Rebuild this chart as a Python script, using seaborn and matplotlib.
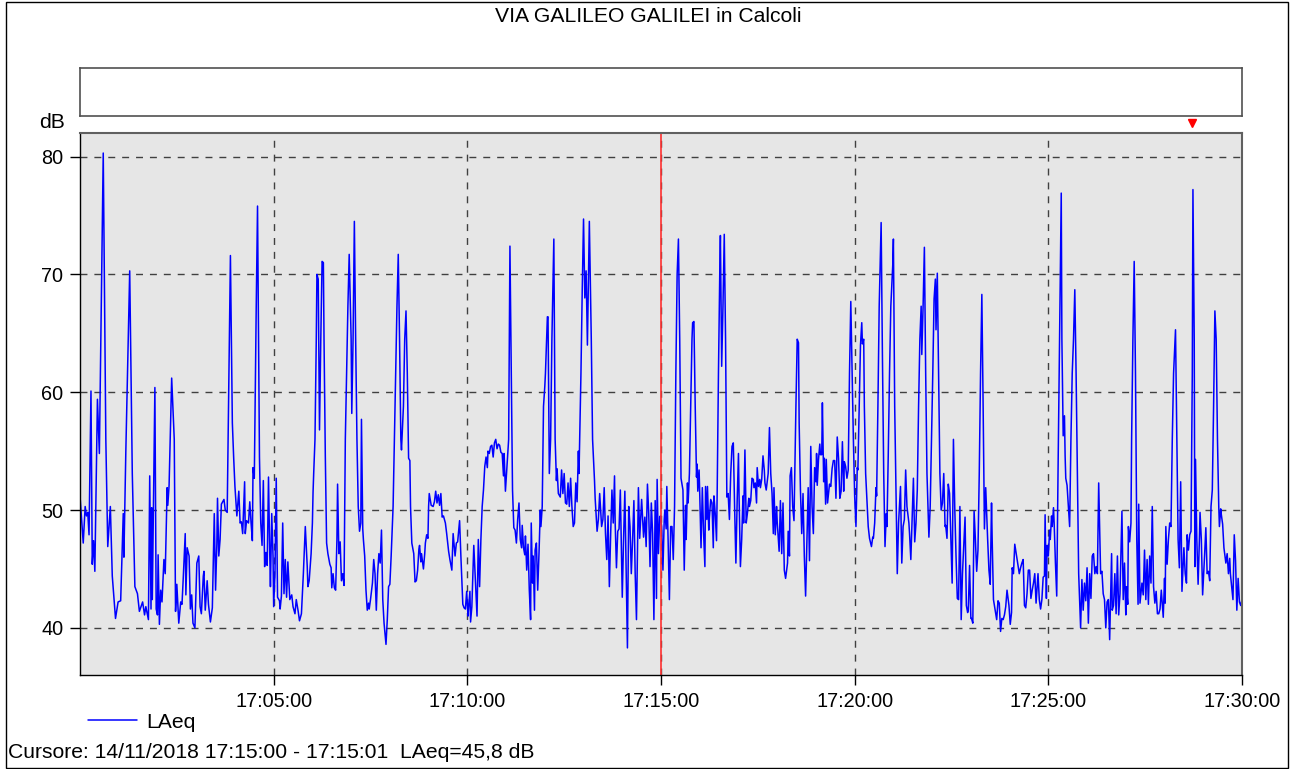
import numpy as np
import pandas as pd
import seaborn as sns
import matplotlib.pyplot as plt
import matplotlib.dates as mdates
from matplotlib.patches import Rectangle

# testi e riferimenti
title = "VIA GALILEO GALILEI in Calcoli"
start = "2018-11-14 17:00:00"
end = "2018-11-14 17:30:00"
cursor_time = "2018-11-14 17:15:00"
marker_time = "2018-11-14 17:28:43"
cursor_text = "Cursore: 14/11/2018 17:15:00 - 17:15:01  LAeq=45,8 dB"
y_ticks = [40, 50, 60, 70, 80]

# secondi dalle 17:00:00
elapsed_s = [
    0, 5, 8, 10, 12, 14, 17, 19, 21, 23, 27, 30, 36, 40, 43, 47, 50, 55, 59, 63,
    67, 68, 71, 77, 81, 85, 89, 92, 97, 100, 102, 106, 108, 110, 111, 112, 116, 118, 120, 121,
    123, 125, 127, 130, 132, 135, 136, 138, 142, 146, 148, 150, 153, 156, 158, 160, 163, 164, 166, 169,
    171, 173, 175, 178, 181,
    184, 186, 188, 191, 192, 194, 197, 199, 202, 205, 208, 210, 212, 213, 215, 217, 219, 222, 223, 225,
    228, 230, 233, 236, 238, 240, 243, 246, 248, 250, 252, 255, 256, 258, 261, 263, 265, 267, 268, 270,
    273, 275, 278, 280, 282, 284, 286, 288, 290, 292, 294, 295, 297, 299, 300, 302, 304, 306, 309, 310,
    312, 314, 316, 318, 320, 322, 325, 328, 330, 333, 335, 338, 340, 343, 346, 349, 352, 353, 355, 358,
    360, 361,
    362, 364, 366, 367, 369, 371, 373, 375, 377, 378, 380, 382, 384, 387, 389, 390, 392, 394, 396, 398,
    399, 401, 403, 405, 407, 409, 411, 413, 415, 417, 420, 421, 423, 425, 427, 429, 431, 433, 435, 436,
    438, 439, 441, 443, 445, 447, 448, 450, 453, 455, 457, 459, 461, 463, 465, 467, 469, 471, 474, 476,
    478, 480, 482, 485, 487, 489, 491, 493, 495, 497, 498, 501, 503, 505, 507, 509, 511, 512, 514, 517,
    519, 521, 523, 525, 526, 528, 529, 532, 534, 535, 537, 539, 540,
    541, 544, 547, 549, 551, 553, 555, 557, 559, 561, 563, 566, 568, 571, 573, 576, 578, 581, 583, 585,
    588, 590, 593, 595, 597, 599, 601, 602, 604, 605, 607, 610, 612, 615, 617, 619, 621, 623, 625, 627,
    629, 631, 632, 634, 636, 638, 640, 642, 644, 646, 648, 650, 652, 654, 656, 657, 659, 661, 664, 666,
    668, 670, 672, 674, 676, 678, 680, 682, 684, 685, 687, 689, 690, 692, 694, 696, 698, 699, 701, 702,
    704, 705, 707, 709, 711, 713, 714, 716, 718, 720,
    721, 724, 725, 727, 729, 731, 734, 736, 738, 739, 741, 744, 746, 748, 750, 752, 754, 756, 758, 760,
    762, 764, 766, 768, 770, 772, 773, 776, 778, 780, 782, 784, 786, 789, 792, 794, 797, 798, 801, 803,
    805, 808, 810, 812, 814, 816, 818, 820, 822, 824, 826, 828, 829, 831, 833, 835, 837, 840, 842, 844,
    846, 848, 850, 852, 854, 856, 858, 860, 862, 865, 867, 869, 870, 873, 875, 877, 879, 881, 883, 885,
    887, 889, 891, 893, 894, 896, 898,
    899, 901, 903, 905, 906, 908, 909, 911, 913, 915, 917, 919, 921, 923, 925, 927, 929, 931, 934, 936,
    938, 939, 941, 942, 944, 946, 948, 949, 951, 953, 955, 956, 957, 959, 960, 962, 964, 966, 968, 969,
    971, 972, 974, 975, 977, 979, 981, 982, 984, 986, 987, 989, 991, 992, 994, 996, 998, 1000, 1002, 1004,
    1006, 1008, 1010, 1012, 1014, 1016, 1018, 1020, 1021, 1023, 1025, 1027, 1028, 1030, 1032, 1034, 1036, 1037, 1039, 1041,
    1043, 1044, 1046, 1048, 1049, 1051, 1053, 1054, 1056, 1058, 1060, 1061, 1063, 1066, 1068, 1070, 1072, 1074, 1075, 1077,
    1079,
    1080, 1082, 1083, 1085, 1087, 1089, 1091, 1093, 1096, 1097, 1099, 1100, 1102, 1104, 1106, 1109, 1111, 1113, 1114, 1116,
    1118, 1120, 1122, 1124, 1126, 1128, 1130, 1132, 1134, 1136, 1138, 1140, 1141, 1142, 1144, 1146, 1147, 1149, 1150, 1152,
    1153, 1155, 1156, 1158, 1161, 1163, 1165, 1167, 1169, 1171, 1173, 1175, 1177, 1179, 1181, 1183, 1184, 1186, 1188, 1190,
    1192, 1194, 1196, 1198, 1200, 1202, 1204, 1205, 1207, 1209, 1211, 1212, 1214, 1215, 1217, 1219, 1221, 1223, 1226, 1228,
    1229, 1231, 1233, 1234, 1236, 1238, 1241, 1243, 1245, 1247, 1249, 1250, 1252, 1254, 1256, 1259,
    1260, 1262, 1264, 1266, 1268, 1271, 1273, 1275, 1277, 1279, 1281, 1284, 1285, 1287, 1291, 1293, 1295, 1297, 1299, 1301,
    1303, 1304, 1306, 1308, 1310, 1312, 1315, 1317, 1319, 1321, 1323, 1325, 1326, 1328, 1330, 1332, 1334, 1336, 1338, 1340,
    1341, 1343, 1345, 1347, 1349, 1351, 1353, 1355, 1357, 1359, 1361, 1363, 1365, 1367, 1371, 1373, 1375, 1376, 1378, 1380,
    1381, 1383, 1385, 1387, 1389, 1391, 1393, 1395, 1397, 1399, 1401, 1403, 1406, 1408, 1410, 1412, 1413, 1415, 1417, 1420,
    1422, 1424, 1426, 1428, 1430, 1432, 1434, 1436, 1438,
    1439, 1441, 1443, 1444, 1446, 1448, 1450, 1453, 1455, 1457, 1459, 1461, 1463, 1465, 1467, 1469, 1471, 1473, 1475, 1477,
    1479, 1481, 1484, 1486, 1488, 1490, 1492, 1494, 1495, 1497, 1498, 1500, 1502, 1503, 1505, 1506, 1508, 1509, 1511, 1513,
    1515, 1518, 1520, 1521, 1523, 1525, 1526, 1527, 1529, 1531, 1533, 1535, 1537, 1539, 1541, 1543, 1545, 1547, 1550, 1552,
    1554, 1556, 1558, 1560, 1562, 1564, 1566, 1568, 1570, 1572, 1574, 1576, 1578, 1581, 1583, 1585, 1587, 1589, 1591, 1593,
    1595, 1598, 1599, 1601, 1603, 1605, 1607, 1609, 1611, 1614, 1616, 1618,
    1620, 1621, 1623, 1624, 1626, 1628, 1629, 1631, 1633, 1635, 1637, 1639, 1640, 1642, 1645, 1647, 1649, 1651, 1653, 1655,
    1657, 1659, 1661, 1663, 1665, 1667, 1669, 1671, 1673, 1675, 1678, 1680, 1681, 1682, 1684, 1686, 1688, 1690, 1692, 1694,
    1697, 1699, 1701, 1703, 1705, 1707, 1710, 1712, 1714, 1715, 1717, 1719, 1721, 1723, 1724, 1726, 1727, 1728, 1730, 1732,
    1734, 1735, 1737, 1739, 1742, 1744, 1746, 1748, 1750, 1752, 1754, 1756, 1758, 1760, 1762, 1764, 1765, 1767, 1768, 1770,
    1772, 1775, 1777, 1779, 1781, 1782, 1784, 1786, 1788, 1790, 1792, 1794, 1796, 1798, 1800,
]

# LAeq in dB
laeq_db = [
    51.2, 47.2, 50.3, 49.5, 49.8, 47.9, 60.1, 45.4, 47.4, 44.8, 59.4, 54.8, 80.3, 56.0, 46.9, 50.3, 44.4, 40.8, 42.2, 42.3,
    49.7, 46.0, 55.0, 70.3, 53.1, 43.5, 42.9, 41.4, 42.2, 41.1, 41.8, 40.7, 52.9, 41.6, 50.2, 42.4, 60.4, 41.6, 41.1, 46.2,
    40.3, 43.2, 42.2, 45.8, 44.6, 51.9, 50.4, 52.1, 61.2, 56.0, 41.4, 43.7, 40.4, 42.2, 42.0, 44.3, 48.0, 42.8, 46.8, 46.1,
    41.6, 42.8, 40.4, 40.0, 45.5,
    46.1, 41.8, 41.2, 44.4, 44.8, 41.5, 44.0, 42.0, 40.5, 41.7, 49.7, 43.2, 47.1, 51.0, 46.1, 47.5, 50.5, 50.8, 50.9, 50.0,
    49.8, 58.8, 71.6, 57.4, 54.5, 52.0, 49.5, 51.6, 48.9, 49.0, 48.0, 52.4, 48.0, 49.1, 48.9, 50.7, 48.9, 47.4, 53.6, 52.7,
    67.3, 75.8, 54.5, 48.9, 47.0, 52.5, 45.2, 46.4, 45.3, 52.8, 46.1, 43.5, 49.7, 46.1, 41.8, 44.6, 52.7, 42.6, 42.3, 41.6,
    42.7, 48.9, 42.9, 45.8, 42.6, 45.6, 42.4, 42.8, 41.8, 41.2, 42.4, 41.4, 40.6, 41.2, 44.6, 48.6, 45.2, 43.5, 44.0, 46.3,
    48.9, 51.5,
    53.1, 56.0, 64.5, 70.0, 69.6, 56.8, 64.5, 71.1, 71.0, 64.5, 54.6, 47.2, 46.3, 45.4, 45.1, 43.4, 44.6, 43.4, 43.2, 47.5,
    52.2, 46.3, 47.3, 44.0, 44.6, 43.6, 56.0, 61.6, 67.3, 71.7, 64.5, 58.2, 64.5, 74.5, 64.5, 56.0, 50.3, 48.2, 48.9, 57.7,
    48.4, 47.5, 46.1, 43.2, 41.5, 42.1, 41.6, 42.4, 43.8, 45.8, 44.6, 41.5, 44.6, 46.3, 45.5, 48.3, 42.4, 40.4, 38.6, 40.7,
    43.5, 43.7, 46.1, 50.3, 56.0, 61.6, 67.3, 71.7, 64.5, 56.0, 55.1, 58.8, 64.5, 66.9, 61.6, 54.4, 54.2, 50.3, 47.2, 46.3,
    43.9, 44.0, 44.9, 46.7, 47.0, 45.6, 46.3, 45.0, 46.3, 47.2, 47.9, 47.6, 50.3,
    51.4, 50.4, 50.3, 50.7, 51.6, 50.6, 51.3, 50.4, 51.4, 49.4, 49.5, 48.9, 48.0, 46.5, 45.8, 44.9, 48.0, 46.1, 47.2, 47.3,
    49.1, 46.1, 42.0, 41.7, 41.6, 43.1, 41.0, 41.8, 43.1, 40.5, 41.8, 47.0, 44.6, 41.0, 47.5, 43.5, 47.5, 50.3, 51.7, 53.7,
    54.5, 53.6, 55.0, 54.8, 55.4, 55.5, 54.5, 55.7, 56.0, 55.2, 55.6, 55.5, 54.9, 54.8, 52.9, 54.8, 51.6, 53.4, 56.0, 72.4,
    61.6, 51.7, 48.5, 48.3, 47.2, 49.2, 50.6, 47.5, 46.8, 48.7, 46.8, 46.2, 47.8, 44.9, 47.1, 43.2, 40.7, 48.9, 43.8, 46.1,
    41.5, 46.6, 47.2, 43.2, 46.3, 50.0, 48.6, 50.3, 58.8, 60.5,
    61.6, 66.4, 66.4, 53.1, 56.0, 64.5, 73.0, 56.0, 52.5, 53.5, 51.4, 51.1, 53.4, 51.4, 53.1, 50.6, 50.5, 52.3, 50.3, 52.7,
    50.3, 48.6, 48.9, 52.3, 50.7, 55.0, 53.1, 61.6, 68.7, 74.7, 68.0, 70.3, 64.0, 74.5, 64.5, 56.0, 52.5, 51.0, 48.2, 49.2,
    51.4, 48.6, 49.2, 51.9, 48.0, 45.8, 49.5, 43.5, 47.9, 51.7, 48.9, 52.9, 48.9, 45.1, 48.2, 48.4, 51.7, 42.6, 47.5, 51.6,
    45.2, 38.3, 50.3, 48.6, 44.6, 47.5, 50.8, 44.6, 40.7, 51.9, 47.6, 49.7, 50.9, 47.7, 49.4, 46.9, 52.2, 49.7, 45.2, 50.6,
    48.0, 40.7, 50.8, 42.5, 52.6, 46.3, 49.4,
    49.5, 48.6, 44.9, 49.2, 50.0, 48.4, 52.0, 47.5, 42.4, 48.6, 48.6, 45.8, 50.3, 61.6, 70.0, 73.0, 64.5, 52.7, 51.7, 44.9,
    50.4, 47.5, 52.3, 50.6, 53.1, 58.8, 64.5, 65.9, 66.0, 58.8, 52.8, 53.9, 51.6, 53.4, 51.4, 46.8, 51.9, 48.0, 45.2, 52.0,
    49.2, 52.0, 48.3, 49.4, 50.9, 50.6, 46.8, 51.2, 49.7, 47.4, 51.4, 61.6, 70.0, 73.3, 62.2, 67.3, 73.4, 64.5, 51.1, 51.4,
    49.2, 53.1, 55.4, 55.7, 50.3, 45.5, 50.8, 54.8, 50.9, 45.2, 47.5, 51.2, 48.9, 55.1, 48.9, 49.8, 51.0, 50.3, 50.8, 52.7,
    52.6, 51.9, 52.3, 50.6, 53.6, 52.0, 52.6, 51.9, 52.6, 54.6, 53.4, 52.3, 51.7, 53.1, 57.0, 53.1, 51.4, 48.0, 51.9, 47.9,
    50.3,
    49.0, 47.3, 46.5, 50.8, 46.3, 50.6, 44.9, 44.2, 45.5, 48.2, 46.1, 52.9, 53.6, 50.3, 49.1, 58.8, 64.5, 64.2, 57.4, 51.7,
    48.0, 51.4, 46.1, 42.7, 47.5, 51.9, 45.7, 55.4, 50.3, 48.0, 53.6, 52.4, 54.8, 52.1, 54.3, 55.6, 54.7, 54.7, 59.1, 52.4,
    54.4, 50.5, 54.3, 50.6, 52.2, 52.0, 53.5, 54.2, 54.2, 51.0, 56.2, 54.4, 51.0, 51.6, 55.8, 51.6, 54.1, 53.7, 52.7, 53.4,
    61.6, 67.7, 61.6, 56.0, 51.2, 48.6, 53.6, 53.4, 58.8, 64.0, 65.9, 64.1, 64.5, 58.8, 53.1, 50.9, 48.6, 47.6, 46.9, 47.7,
    47.6, 48.9, 51.9, 51.2, 58.8, 67.3, 74.4, 63.1, 53.1, 46.9, 49.7, 48.6, 54.6, 61.6, 67.3, 70.8,
    73.0, 58.8, 51.7, 44.6, 48.9, 52.0, 45.5, 48.6, 49.2, 53.4, 50.3, 48.9, 48.0, 45.8, 52.7, 47.3, 48.9, 51.7, 58.8, 64.5,
    67.3, 63.2, 67.3, 72.3, 61.6, 53.1, 47.7, 50.3, 56.0, 61.6, 67.9, 69.6, 65.3, 70.1, 61.6, 53.1, 50.0, 50.6, 53.1, 48.6,
    48.7, 47.6, 52.2, 51.4, 47.5, 43.8, 56.0, 50.3, 46.1, 42.5, 42.4, 50.3, 40.7, 44.6, 49.4, 41.9, 41.3, 41.5, 45.3, 40.8,
    40.8, 40.4, 49.9, 47.5, 44.8, 46.6, 53.1, 61.6, 68.3, 58.8, 48.4, 51.9, 47.5, 44.9, 43.7, 50.6, 47.5, 42.4, 41.7, 40.7,
    42.3, 42.1, 39.7, 40.8, 40.7, 41.1, 41.8, 43.2, 42.3,
    41.9, 40.3, 41.3, 45.1, 44.6, 47.1, 46.4, 45.3, 44.6, 45.1, 45.5, 45.8, 41.9, 41.7, 42.9, 44.9, 44.9, 42.5, 43.2, 43.8,
    44.6, 42.1, 44.6, 42.4, 41.6, 42.4, 44.3, 44.4, 49.6, 42.5, 47.0, 46.1, 48.3, 47.5, 49.5, 48.6, 50.2, 48.9, 45.5, 42.7,
    53.1, 67.3, 76.9, 64.5, 56.3, 58.0, 54.6, 52.7, 52.1, 50.3, 48.6, 56.0, 61.6, 64.5, 68.7, 61.6, 53.1, 44.6, 40.0, 44.1,
    41.5, 43.8, 42.3, 45.1, 40.4, 44.6, 42.5, 46.1, 46.3, 44.6, 45.2, 44.6, 52.3, 44.6, 44.8, 42.9, 42.4, 40.0, 42.2, 42.4,
    39.0, 46.3, 41.5, 41.9, 44.6, 41.2, 46.1, 41.1, 42.9, 49.9, 42.4, 45.5,
    41.1, 43.5, 42.0, 48.6, 47.3, 48.9, 56.0, 64.5, 71.1, 61.6, 47.5, 42.0, 50.5, 42.1, 43.8, 42.8, 46.6, 42.4, 45.8, 42.0,
    46.1, 43.8, 50.3, 43.5, 42.1, 43.1, 41.2, 41.2, 41.6, 43.2, 40.9, 44.2, 42.1, 48.6, 45.4, 47.5, 48.9, 48.6, 56.0, 61.6,
    65.3, 56.0, 47.5, 45.1, 52.4, 43.1, 46.8, 44.6, 43.8, 47.9, 46.6, 47.9, 48.2, 61.6, 77.2, 64.5, 45.2, 54.3, 47.5, 43.7,
    47.5, 49.8, 47.5, 42.8, 46.1, 48.5, 44.6, 44.8, 44.0, 50.3, 51.7, 58.8, 66.9, 64.5, 56.0, 50.3, 48.6, 50.1, 49.6, 48.8,
    46.8, 45.5, 46.3, 44.6, 45.9, 44.6, 43.5, 42.4, 47.9, 45.7, 41.5, 44.2, 42.2, 41.9, 42.4,
]

df = pd.DataFrame({
    "time": pd.Timestamp(start) + pd.to_timedelta(elapsed_s, unit="s"),
    "LAeq": laeq_db,
})

sns.set_style("ticks")
plt.rcParams["font.family"] = ["Liberation Sans", "DejaVu Sans"]
plt.rcParams["text.color"] = "black"
plt.rcParams["xtick.color"] = "black"
plt.rcParams["ytick.color"] = "black"
fs = 15.2
fs_tick = 14.3

fig = plt.figure(figsize=(12.91, 7.69), dpi=100)

# cornice esterna
fig.patches.append(Rectangle((6 / 1291, 1 / 769), 1282 / 1291, 766 / 769, transform=fig.transFigure,
                             fill=False, edgecolor="black", lw=1))

# riquadro vuoto sopra il grafico
box = fig.add_axes([80 / 1291, 1 - 116 / 769, 1162 / 1291, 48 / 769])
box.set_xticks([])
box.set_yticks([])
for s in box.spines.values():
    s.set_color("#505050")
    s.set_linewidth(1.2)

ax = fig.add_axes([80 / 1291, 1 - 675 / 769, 1162 / 1291, 542 / 769])
ax.set_facecolor("#e6e6e6")
ax.set_axisbelow(True)

sns.lineplot(data=df, x="time", y="LAeq", ax=ax, color="#0000ff", lw=1.1,
             label="LAeq", estimator=None, sort=False)

ax.set_xlim(pd.Timestamp(start), pd.Timestamp(end))
ax.set_ylim(36, 82)
ax.set_yticks(y_ticks)
ax.xaxis.set_major_locator(mdates.MinuteLocator(byminute=[5, 10, 15, 20, 25, 30]))
ax.xaxis.set_major_formatter(mdates.DateFormatter("%H:%M:%S"))
ax.grid(True, color="#404040", ls=(0, (5, 5)), lw=1)
ax.set_xlabel("")
ax.set_ylabel("")
ax.tick_params(labelsize=fs_tick, length=7, width=1, colors="black", pad=5)

# cursore
ax.axvline(pd.Timestamp(cursor_time), color="#ff3030", lw=1.2)
ax.plot([pd.Timestamp(marker_time)], [1.018], marker="v", color="red", ms=6,
        transform=ax.get_xaxis_transform(), clip_on=False)

for side in ["top", "right"]:
    ax.spines[side].set_color("#606060")
    ax.spines[side].set_linewidth(1.5)
for side in ["left", "bottom"]:
    ax.spines[side].set_color("black")
    ax.spines[side].set_linewidth(1)

ax.legend(loc="center left", bbox_to_anchor=(88 / 1291, 1 - 722 / 769), bbox_transform=fig.transFigure,
          frameon=False, fontsize=fs, handlelength=2.3, handletextpad=0.45, borderpad=0, borderaxespad=0)

fig.text(648 / 1291, 1 - 17 / 769, title, ha="center", va="center", fontsize=fs, color="black")
fig.text(52 / 1291, 1 - 123 / 769, "dB", ha="center", va="center", fontsize=fs, color="black")
fig.text(8 / 1291, 1 - 752 / 769, cursor_text, ha="left", va="center", fontsize=fs, color="black")

fig.savefig("out.png", dpi=100)
